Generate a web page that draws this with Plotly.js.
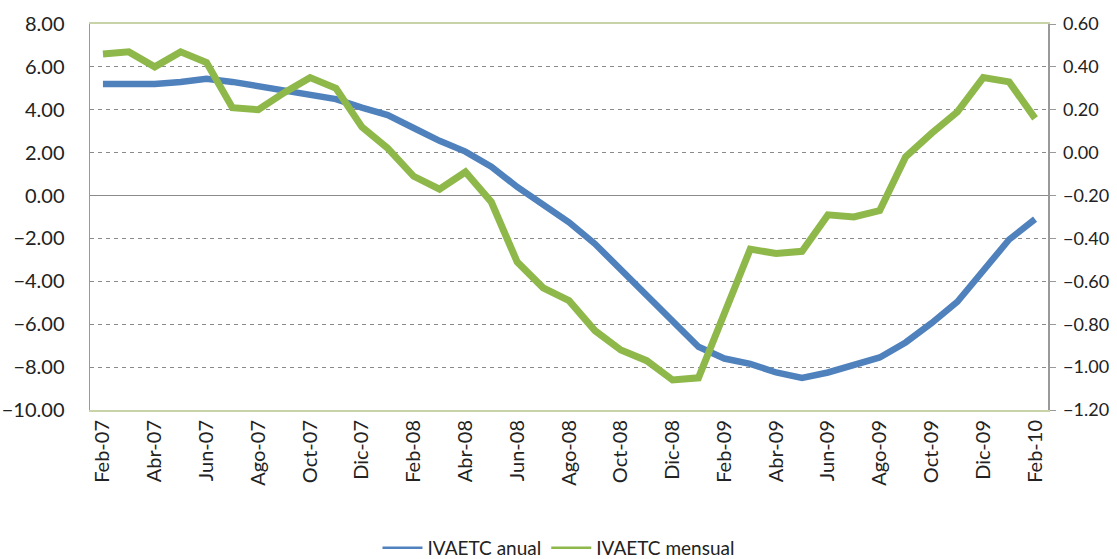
<!DOCTYPE html>
<html>
<head>
<meta charset="utf-8">
<script src="https://cdn.plot.ly/plotly-3.0.1.min.js"></script>
<style>
  html, body { margin: 0; padding: 0; background: #fff; }
  #chart { width: 1117px; height: 559px; }
</style>
</head>
<body>
<div id="chart"></div>
<script>
const months = [
  "Feb-07", "Mar-07", "Abr-07", "May-07", "Jun-07", "Jul-07", "Ago-07", "Sep-07", "Oct-07", "Nov-07", "Dic-07",
  "Ene-08", "Feb-08", "Mar-08", "Abr-08", "May-08", "Jun-08", "Jul-08", "Ago-08", "Sep-08", "Oct-08", "Nov-08", "Dic-08",
  "Ene-09", "Feb-09", "Mar-09", "Abr-09", "May-09", "Jun-09", "Jul-09", "Ago-09", "Sep-09", "Oct-09", "Nov-09", "Dic-09",
  "Ene-10", "Feb-10"
];

// IVAETC anual (left axis)
const anual = [
  5.2, 5.2, 5.2, 5.3, 5.45, 5.3, 5.1, 4.9, 4.65, 4.5, 4.1,
  3.75, 3.15, 2.55, 2.05, 1.35, 0.4, -0.45, -1.25, -2.25, -3.45, -4.65, -5.9,
  -7.05, -7.6, -7.85, -8.25, -8.5, -8.25, -7.9, -7.55, -6.85, -5.95, -4.95, -3.45,
  -2.05, -1.1
];

// IVAETC mensual (right axis)
const mensual = [
  0.46, 0.47, 0.40, 0.47, 0.42, 0.21, 0.20, 0.28, 0.35, 0.30, 0.12,
  0.02, -0.11, -0.17, -0.09, -0.23, -0.51, -0.63, -0.69, -0.83, -0.92, -0.97, -1.06,
  -1.05, -0.75, -0.45, -0.47, -0.46, -0.29, -0.30, -0.27, -0.02, 0.09, 0.19, 0.35,
  0.33, 0.16
];

const tickLabels = months.filter((m, i) => i % 2 === 0);

const blue = "#4f81bd";
const green = "#8fb84a";

const traces = [
  {
    x: months,
    y: anual,
    mode: "lines",
    name: "IVAETC anual",
    line: { color: blue, width: 6.5 },
    showlegend: false
  },
  {
    x: months,
    y: mensual,
    yaxis: "y2",
    mode: "lines",
    name: "IVAETC mensual",
    line: { color: green, width: 7 },
    showlegend: false
  },
  // thin legend entries
  { x: [null], y: [null], mode: "lines", name: "IVAETC anual", line: { color: blue, width: 2.5 } },
  { x: [null], y: [null], mode: "lines", name: "IVAETC mensual", line: { color: green, width: 2.5 } }
];

const fontFamily = "Lato, 'Open Sans', sans-serif";
const tickFont = { family: fontFamily, size: 20, color: "#222" };

const layout = {
  width: 1117,
  height: 559,
  margin: { l: 90, r: 69, t: 24, b: 149 },
  paper_bgcolor: "#fff",
  plot_bgcolor: "#fff",
  font: tickFont,
  showlegend: true,
  legend: {
    orientation: "h",
    x: 0.5,
    xanchor: "center",
    xref: "container",
    y: 0.02,
    yref: "container",
    yanchor: "middle",
    font: { family: fontFamily, size: 19, color: "#222" },
    itemwidth: 40
  },
  xaxis: {
    type: "category",
    range: [-0.5, 36.5],
    tickmode: "array",
    tickvals: tickLabels,
    ticktext: tickLabels,
    tickangle: -90,
    ticks: "",
    showgrid: false,
    showline: true,
    linecolor: "#c9d3a8",
    linewidth: 2,
    mirror: true,
    zeroline: false,
    tickfont: { family: fontFamily, size: 20, color: "#222" }
  },
  yaxis: {
    range: [-10, 8],
    dtick: 2,
    tick0: 0,
    tickformat: ".2f",
    showline: true,
    linecolor: "#999",
    linewidth: 1.5,
    ticks: "outside",
    ticklen: 20,
    tickcolor: "rgba(0,0,0,0)",
    showgrid: true,
    gridcolor: "#8a8a8a",
    gridwidth: 1,
    griddash: "4px,4px",
    zeroline: true,
    zerolinecolor: "#8a8a8a",
    zerolinewidth: 1.5,
    tickfont: tickFont
  },
  yaxis2: {
    overlaying: "y",
    side: "right",
    range: [-1.2, 0.6],
    dtick: 0.2,
    tick0: 0,
    tickformat: ".2f",
    showline: true,
    linecolor: "#999",
    linewidth: 1.5,
    ticks: "outside",
    ticklen: 6,
    tickcolor: "#999",
    ticklabelstandoff: 4,
    showgrid: false,
    zeroline: false,
    tickfont: { family: fontFamily, size: 18, color: "#222" }
  }
};

Plotly.newPlot("chart", traces, layout, { displayModeBar: false, staticPlot: true });
</script>
</body>
</html>
